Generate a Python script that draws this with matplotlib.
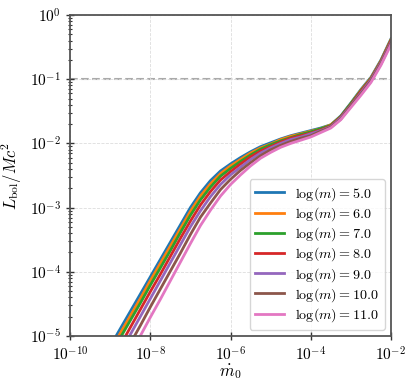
import numpy as np
import matplotlib
matplotlib.use("Agg")
import matplotlib.pyplot as plt
from matplotlib.ticker import FixedLocator, NullLocator

plt.rcParams["mathtext.fontset"] = "cm"
plt.rcParams["font.family"] = "serif"
plt.rcParams["font.serif"] = ["cmr10", "DejaVu Serif"]
plt.rcParams["axes.formatter.use_mathtext"] = True
plt.rcParams["font.size"] = 10

# log10 of mdot_0 (sampling grid of the curves)
log_mdot = [-9.25, -9.0, -8.75, -8.5, -8.25, -8.0, -7.75, -7.5, -7.25, -7.0,
            -6.75, -6.5, -6.25, -6.0, -5.75, -5.5, -5.25, -5.0, -4.75, -4.5,
            -4.25, -4.0, -3.75, -3.5, -3.25, -3.0, -2.75, -2.5, -2.25, -2.0]

# log10 of L_bol / (Mdot c^2), one list per black hole mass
log_eff_m5 = [-5.43, -5.16, -4.89, -4.62, -4.35, -4.08, -3.81, -3.54, -3.27, -3.00,
              -2.77, -2.58, -2.43, -2.32, -2.22, -2.13, -2.05, -1.99, -1.93, -1.88,
              -1.84, -1.80, -1.76, -1.71, -1.57, -1.37, -1.16, -0.97, -0.70, -0.37]
log_eff_m6 = [-5.50, -5.23, -4.96, -4.69, -4.42, -4.14, -3.87, -3.60, -3.33, -3.06,
              -2.82, -2.63, -2.47, -2.35, -2.25, -2.15, -2.07, -2.01, -1.94, -1.89,
              -1.85, -1.81, -1.77, -1.71, -1.58, -1.38, -1.17, -0.98, -0.71, -0.38]
log_eff_m7 = [-5.58, -5.31, -5.03, -4.76, -4.49, -4.21, -3.94, -3.67, -3.39, -3.12,
              -2.88, -2.68, -2.51, -2.39, -2.28, -2.18, -2.09, -2.02, -1.96, -1.91,
              -1.86, -1.82, -1.77, -1.72, -1.58, -1.38, -1.18, -0.99, -0.72, -0.39]
log_eff_m8 = [-5.70, -5.42, -5.15, -4.87, -4.59, -4.31, -4.04, -3.76, -3.48, -3.21,
              -2.96, -2.75, -2.57, -2.44, -2.32, -2.21, -2.12, -2.05, -1.98, -1.92,
              -1.88, -1.84, -1.79, -1.73, -1.59, -1.40, -1.19, -1.00, -0.73, -0.40]
log_eff_m9 = [-5.82, -5.54, -5.26, -4.98, -4.70, -4.42, -4.14, -3.86, -3.58, -3.30,
              -3.05, -2.83, -2.64, -2.49, -2.37, -2.25, -2.15, -2.07, -2.00, -1.94,
              -1.90, -1.85, -1.80, -1.74, -1.60, -1.41, -1.21, -1.01, -0.74, -0.42]
log_eff_m10 = [-5.97, -5.69, -5.41, -5.12, -4.84, -4.55, -4.27, -3.99, -3.71, -3.42,
               -3.15, -2.93, -2.72, -2.56, -2.42, -2.30, -2.19, -2.10, -2.03, -1.97,
               -1.92, -1.88, -1.81, -1.75, -1.62, -1.42, -1.23, -1.03, -0.76, -0.44]
log_eff_m11 = [-6.15, -5.86, -5.58, -5.29, -5.00, -4.71, -4.43, -4.14, -3.85, -3.56,
               -3.28, -3.04, -2.82, -2.64, -2.49, -2.35, -2.23, -2.14, -2.06, -2.00,
               -1.95, -1.90, -1.83, -1.76, -1.63, -1.44, -1.25, -1.05, -0.78, -0.46]

log_masses = [5.0, 6.0, 7.0, 8.0, 9.0, 10.0, 11.0]
curves = [log_eff_m5, log_eff_m6, log_eff_m7, log_eff_m8,
          log_eff_m9, log_eff_m10, log_eff_m11]

x_ticks = [1e-10, 1e-8, 1e-6, 1e-4, 1e-2]

fig = plt.figure(figsize=(4.15, 3.86), dpi=100)
ax = fig.add_axes([0.1687, 0.1295, 0.7735, 0.8316])

mdot = 10.0 ** np.array(log_mdot)
for logm, curve in zip(log_masses, curves):
    ax.plot(mdot, 10.0 ** np.array(curve), lw=2.0, label=r"$\log(m) = %.1f$" % logm)

ax.axhline(0.1, color="#aaaaaa", lw=1.5, ls="--", zorder=0)

ax.set_xscale("log")
ax.set_yscale("log")
ax.set_xlim(1e-10, 1e-2)
ax.set_ylim(1e-5, 1)
ax.xaxis.set_major_locator(FixedLocator(x_ticks))
ax.xaxis.set_minor_locator(NullLocator())

ax.set_xlabel(r"$\dot{m}_0$", fontsize=12)
ax.set_ylabel(r"$L_{\rm bol}/\dot{M}c^2$", fontsize=12)
ax.xaxis.set_label_coords(0.5, -0.08)
ax.yaxis.set_label_coords(-0.143, 0.5)

ax.grid(True, which="major", color="#dddddd", ls="--", lw=0.6)
for sp in ax.spines.values():
    sp.set_color("#555555")
    sp.set_linewidth(1.3)
ax.tick_params(which="major", direction="inout", length=6, width=1.0,
               color="#333333", labelsize=11)
ax.tick_params(which="minor", direction="inout", length=3, width=0.8, color="#333333")

ax.legend(loc="lower right", fontsize=10.2, labelspacing=0.17, borderaxespad=0.45)

fig.savefig("out.png", dpi=100)
